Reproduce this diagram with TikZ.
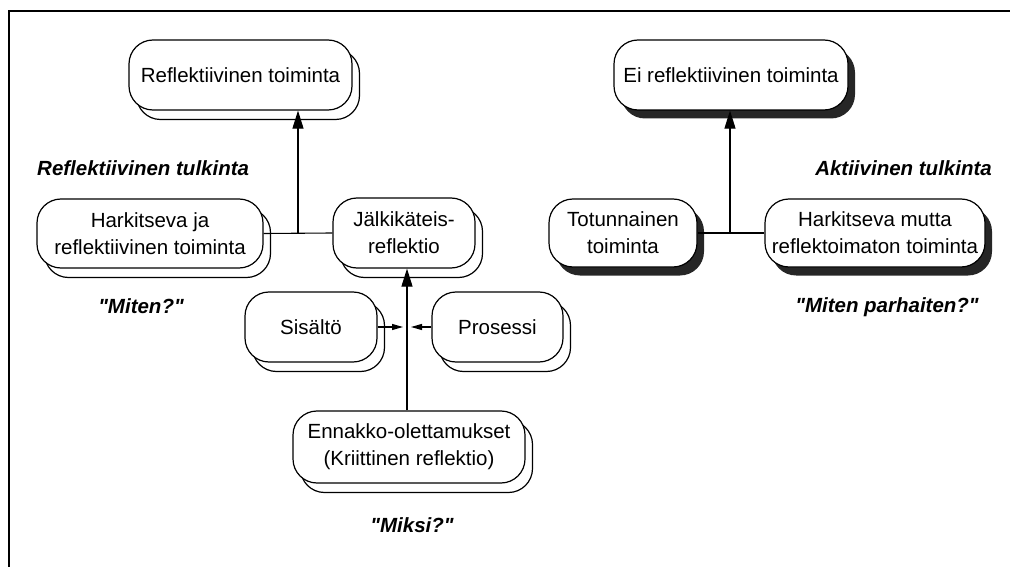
\documentclass[tikz,border=0pt]{standalone}
\usepackage{fontspec}
\setmainfont{Liberation Sans}[Ligatures=TeXOff]
\usetikzlibrary{shadows,arrows.meta}
\begin{document}
\begin{tikzpicture}[x=1pt,y=-1pt,
  box/.style={draw, line width=1.2pt, fill=white, rounded corners=24pt, align=center, inner sep=0pt, font=\fontsize{20.5}{27}\selectfont},
  lshadow/.style={general shadow={draw, fill=white, line width=1.2pt, shadow xshift=7.5pt, shadow yshift=-9.5pt}},
  dshadow/.style={general shadow={fill=black!85, shadow xshift=7pt, shadow yshift=-8.5pt}},
  lbl/.style={inner sep=0pt, font=\fontsize{20.5}{25}\selectfont\bfseries\itshape},
  conn/.style={line width=1.1pt},
  bigarrow/.style={conn, -{Triangle[length=18pt,width=11pt]}},
  smallarrow/.style={conn, -{Triangle[length=11pt,width=6pt]}}
]
\useasboundingbox (0,0) rectangle (1010,567);
\draw[line width=1.8pt] (1010,11) -- (9,11) -- (9,567);

% left side
\node[box,lshadow,minimum width=223pt,minimum height=70pt] (rt) at (240.5,75) {Reflektiivinen toiminta};
\node[box,lshadow,minimum width=226pt,minimum height=69pt] (hr) at (150,233.5) {Harkitseva ja\\reflektiivinen toiminta};
\node[box,lshadow,minimum width=142pt,minimum height=70pt] (jr) at (404,233) {Jälkikäteis-\\reflektio};
\node[box,lshadow,minimum width=132pt,minimum height=70pt] (si) at (311,327) {Sisältö};
\node[box,lshadow,minimum width=131pt,minimum height=70pt] (pr) at (497.5,327) {Prosessi};
\node[box,lshadow,minimum width=232pt,minimum height=72pt] (en) at (409,447) {Ennakko-olettamukset\\(Kriittinen reflektio)};

% right side
\node[box,dshadow,minimum width=234pt,minimum height=70pt] (er) at (731,75) {Ei reflektiivinen toiminta};
\node[box,dshadow,minimum width=148pt,minimum height=68pt] (tt) at (623,233) {Totunnainen\\toiminta};
\node[box,dshadow,minimum width=220pt,minimum height=68pt] (hm) at (875,233) {Harkitseva mutta\\reflektoimaton toiminta};

% connectors
\coordinate (jl) at (298,233);
\draw[conn] (hr.east) -- (jr.west);
\draw[bigarrow] (jl) -- (jl |- rt.south);

\coordinate (ja) at (730,233);
\draw[conn] (tt.east) -- (hm.west);
\draw[bigarrow] (ja) -- (ja |- er.south);

\coordinate (vx) at (407,327);
\draw[bigarrow] (vx |- en.north) -- (vx |- jr.south);
\coordinate (sa) at (403,327);
\coordinate (pa) at (411,327);
\draw[smallarrow] (si.east) -- (sa);
\draw[smallarrow] (pr.west) -- (pa);

% labels
\node[lbl, anchor=west] (l1) at (37,168) {Reflektiivinen tulkinta};
\node[lbl, anchor=east] (l2) at (992,168) {Aktiivinen tulkinta};
\node[lbl] (q1) at (141,306) {"Miten?"};
\node[lbl] (q2) at (887,307) {"Miten parhaiten?"};
\node[lbl] (q3) at (412,525) {"Miksi?"};
\end{tikzpicture}
\end{document}
